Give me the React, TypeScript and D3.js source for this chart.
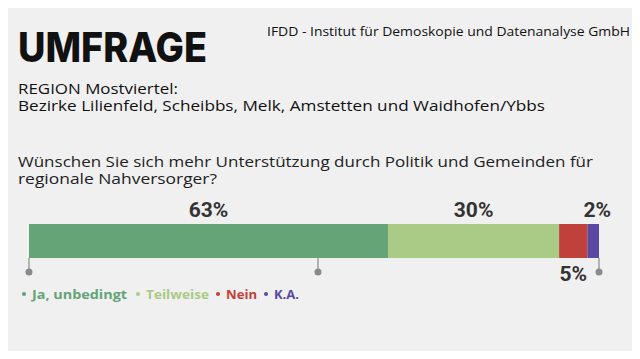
import React from "react";
import * as d3 from "d3";

const categories = ["Ja, unbedingt", "Teilweise", "Nein", "K.A."];
const values = [63, 30, 5, 2];
const colors = ["#64a477", "#a9cb86", "#c0413b", "#5a48a3"];
const labelPos = ["above", "above", "below", "above"];
const tickValues = [0, 50.7, 100];

const W = 640;
const H = 359;
const FONT = "'Open Sans', 'Noto Sans', sans-serif";
const NUMFONT = "Roboto, 'Liberation Sans', sans-serif";

// legend layout (positions / widths, not data)
const legendX = [24, 138, 218, 266];
const legendW = [95, 63, 31, 25];

export default function App() {
  const x = d3.scaleLinear().domain([0, 100]).range([29, 599]);
  const stacked = values.reduce<{ start: number; end: number }[]>((acc, v) => {
    const s = acc.length ? acc[acc.length - 1].end : 0;
    acc.push({ start: s, end: s + v });
    return acc;
  }, []);
  const barTop = 224;
  const barH = 34;

  return (
    <div style={{ margin: -8, width: W, height: H, background: "#ffffff" }}>
      <svg width={W} height={H} style={{ display: "block" }}>
        <rect x={0} y={0} width={W} height={H} rx={22} ry={22} fill="#f0f0f0" />
        <text x={18} y={62} fontFamily="Inter, sans-serif" fontWeight={800} fontSize={41} fill="#111" textLength={189} lengthAdjust="spacingAndGlyphs">UMFRAGE</text>
        <text x={267} y={36} fontFamily={FONT} fontWeight={500} fontSize={12.5} fill="#111" textLength={363} lengthAdjust="spacingAndGlyphs">IFDD - Institut für Demoskopie und Datenanalyse GmbH</text>
        <text x={18} y={94} fontFamily={FONT} fontWeight={500} fontSize={15} fill="#111" textLength={160} lengthAdjust="spacingAndGlyphs">REGION Mostviertel:</text>
        <text x={18} y={111} fontFamily={FONT} fontWeight={500} fontSize={15} fill="#111" textLength={527} lengthAdjust="spacingAndGlyphs">Bezirke Lilienfeld, Scheibbs, Melk, Amstetten und Waidhofen/Ybbs</text>
        <text x={18} y={167} fontFamily={FONT} fontWeight={500} fontSize={15} fill="#222" textLength={575} lengthAdjust="spacingAndGlyphs">Wünschen Sie sich mehr Unterstützung durch Politik und Gemeinden für</text>
        <text x={18} y={184} fontFamily={FONT} fontWeight={500} fontSize={15} fill="#222" textLength={199} lengthAdjust="spacingAndGlyphs">regionale Nahversorger?</text>

        {tickValues.map((t, i) => (
          <g key={i}>
            <line x1={x(t)} x2={x(t)} y1={barTop + barH} y2={272} stroke="#8a8a8a" strokeWidth={1.2} />
            <circle cx={x(t)} cy={272} r={3.5} fill="#8a8a8a" />
          </g>
        ))}

        {stacked.map((s, i) => (
          <rect key={i} x={x(s.start)} y={barTop} width={x(s.end) - x(s.start)} height={barH} fill={colors[i]} />
        ))}

        {stacked.map((s, i) => {
          const cx = i === 3 ? Math.min((x(s.start) + x(s.end)) / 2 + 4, 600) : (x(s.start) + x(s.end)) / 2;
          const y = labelPos[i] === "above" ? 217 : 281;
          return (
            <text key={i} x={cx} y={y} textAnchor="middle" fontFamily={NUMFONT} fontWeight={700} fontSize={21} fill="#333">
              {values[i]}%
            </text>
          );
        })}

        {categories.map((c, i) => (
          <g key={c}>
            <circle cx={legendX[i]} cy={294} r={2} fill={colors[i]} />
            <text x={legendX[i] + 8} y={298.5} fontFamily={FONT} fontWeight={700} fontSize={13} fill={colors[i]} textLength={legendW[i]} lengthAdjust="spacingAndGlyphs">
              {c}
            </text>
          </g>
        ))}
      </svg>
    </div>
  );
}
